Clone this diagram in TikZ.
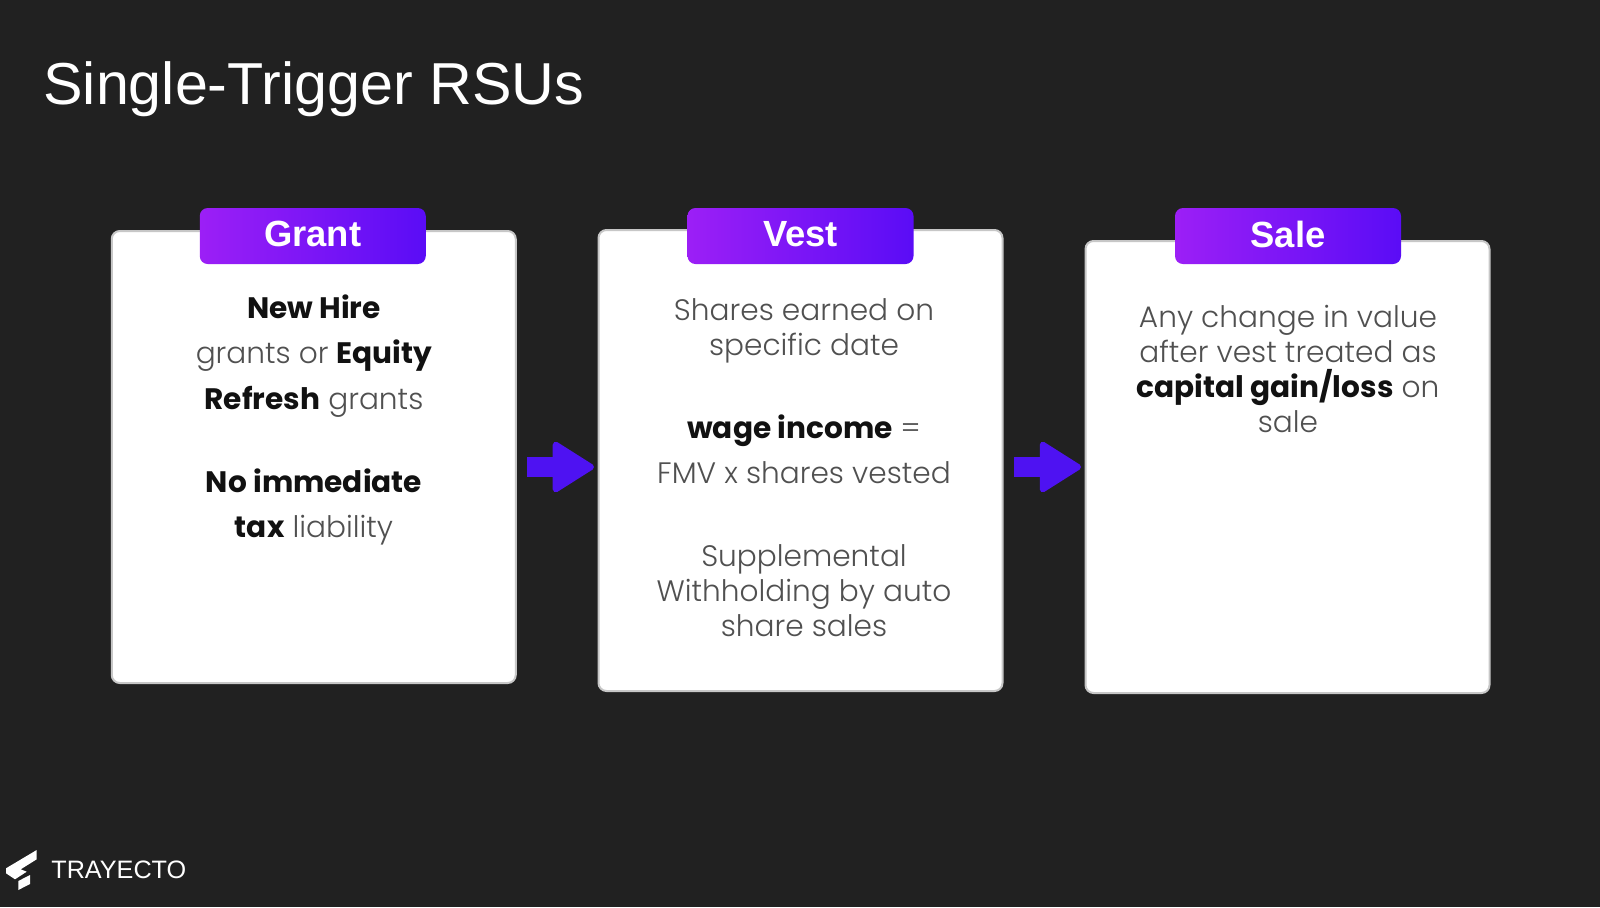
\documentclass[tikz,border=0pt]{standalone}
\usepackage{fontspec}
\usetikzlibrary{arrows.meta}
\setmainfont{Poppins Light}[BoldFont=Poppins Bold]
\newfontfamily\headfont{Liberation Sans}
\definecolor{slidebg}{HTML}{212121}
\definecolor{tableft}{HTML}{9C1FF6}
\definecolor{tabright}{HTML}{5A0CF6}
\definecolor{arrowblue}{HTML}{4E12F2}
\definecolor{bodygray}{HTML}{505050}
\definecolor{boldblack}{HTML}{111111}
\tikzset{
  card/.style={draw=black!22,line width=1pt,fill=white,rounded corners=4pt,inner sep=0pt},
  tab/.style={left color=tableft,right color=tabright,rounded corners=4pt,inner sep=0pt,text depth=2pt,
    minimum width=113pt,minimum height=28pt,text=white,font=\headfont\bfseries\fontsize{18.2}{20}\selectfont},
  widebody/.style={anchor=north,align=center,text=bodygray,inner sep=0pt,font=\fontsize{14.8}{22.75}\selectfont},
  narrowbody/.style={anchor=north,align=center,text=bodygray,inner sep=0pt,font=\fontsize{14.8}{17.5}\selectfont},
  flow/.style={draw=arrowblue,line width=10pt,-{Triangle[length=22pt,width=27pt,round,line width=3pt]}},
}
\newcommand{\bt}[1]{\textcolor{boldblack}{\textbf{#1}}}
\begin{document}
\begin{tikzpicture}[x=0.5pt,y=-0.5pt]
  \fill[slidebg] (0,0) rectangle (1600,907);
  \useasboundingbox (0,0) rectangle (1600,907);
  % title and logo
  \node[anchor=base west,inner sep=0pt,text=white,font=\headfont\fontsize{29.6}{32}\selectfont] (title) at (43,104) {Single-Trigger RSUs};
  \fill[white] (6,868.3) -- (36.7,850) -- (36.7,859.3) -- (20.7,869.3) -- (26.7,871.7) -- (15,879.3) -- (6,873.3) -- cycle;
  \fill[white] (18.3,881) -- (30,875) -- (30,884) -- (18.3,890) -- cycle;
  \node[anchor=base west,inner sep=0pt,text=white,font=\headfont\fontsize{12.6}{14}\selectfont] (brand) at (51,878) {TRAYECTO};
  % cards
  \node[card,minimum width=202pt,minimum height=226pt] (grant) at (313.75,457) {};
  \node[card,minimum width=202pt,minimum height=230.5pt] (vest) at (800.5,460.5) {};
  \node[card,minimum width=202pt,minimum height=226pt] (sale) at (1287.5,467) {};
  \node[tab] (granttab) at (312.75,236) {Grant};
  \node[tab] (vesttab) at (800.5,236) {Vest};
  \node[tab] (saletab) at (1288,236) {Sale};
  % grant text
  \node[widebody] (grantone) at (314,294) {\bt{New Hire}\\grants or \bt{Equity}\\\bt{Refresh} grants};
  \node[widebody] (granttwo) at (314,468) {\bt{No immediate}\\\bt{tax} liability};
  % vest text
  \node[narrowbody] (vestone) at (804,298) {Shares earned on\\specific date};
  \node[widebody] (vesttwo) at (804,414) {\bt{wage income} =\\FMV x shares vested};
  \node[narrowbody] (vestthree) at (804,544) {Supplemental\\Withholding by auto\\share sales};
  % sale text
  \node[narrowbody] (saleone) at (1288,305) {Any change in value\\after vest treated as\\\bt{capital gain/loss} on\\sale};
  % arrows
  \coordinate (flowa) at (527,467);
  \coordinate (flowb) at (594,467);
  \coordinate (flowc) at (1014,467);
  \coordinate (flowd) at (1081,467);
  \draw[flow] (flowa) -- (flowb);
  \draw[flow] (flowc) -- (flowd);
\end{tikzpicture}
\end{document}
